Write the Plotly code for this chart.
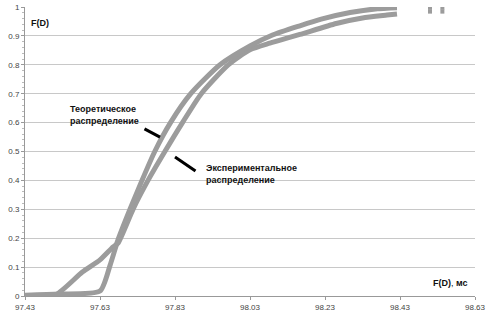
import plotly.graph_objects as go

# Curve 1 ("Теоретическое распределение"): flat start, steep rise, upper curve
theor_x = [97.43, 97.52, 97.63, 97.657, 97.678, 97.71, 97.742, 97.776, 97.818, 97.872,
           97.95, 98.03, 98.09, 98.163, 98.22, 98.297, 98.37, 98.395, 98.422]
theor_y = [0.003, 0.007, 0.017, 0.107, 0.194, 0.30, 0.40, 0.50, 0.60, 0.70,
           0.80, 0.865, 0.903, 0.935, 0.958, 0.981, 0.994, 0.996, 0.997]

# Curve 2 ("Экспериментальное распределение"): gradual start, lower curve
exper_x = [97.43, 97.51, 97.583, 97.63, 97.665, 97.678, 97.718, 97.758, 97.803, 97.85,
           97.90, 97.972, 98.03, 98.083, 98.163, 98.26, 98.33, 98.395, 98.422]
exper_y = [0.0, 0.003, 0.083, 0.125, 0.17, 0.183, 0.30, 0.40, 0.50, 0.60,
           0.70, 0.80, 0.852, 0.875, 0.905, 0.943, 0.962, 0.972, 0.976]

# isolated tail points at the far right
tail_x = [98.51, 98.543, 98.51, 98.543]
tail_y = [0.997, 0.997, 0.984, 0.984]

x_ticks = [97.43, 97.63, 97.83, 98.03, 98.23, 98.43, 98.63]
x_tick_text = ["97.43", "97.63", "97.83", "98.03", "98.23", "98.43", "98.63"]
y_ticks = [0, 0.1, 0.2, 0.3, 0.4, 0.5, 0.6, 0.7, 0.8, 0.9, 1]

GRAY = "#9c9c9c"
FONT = "Liberation Sans"

fig = go.Figure()
fig.add_trace(go.Scatter(x=exper_x, y=exper_y, mode="lines",
                         line=dict(color=GRAY, width=5, shape="spline", smoothing=0.6),
                         showlegend=False))
fig.add_trace(go.Scatter(x=theor_x, y=theor_y, mode="lines",
                         line=dict(color=GRAY, width=5, shape="spline", smoothing=0.6),
                         showlegend=False))
fig.add_trace(go.Scatter(x=tail_x, y=tail_y, mode="markers",
                         marker=dict(color=GRAY, size=4, symbol="square"),
                         showlegend=False))

ann = []
ann.append(dict(x=97.545, y=0.626, xref="x", yref="y", xanchor="left", yanchor="middle",
                align="left", showarrow=False,
                text="<b>Теоретическое<br>распределение</b>",
                font=dict(family=FONT, size=9, color="#111")))
ann.append(dict(x=97.907, y=0.422, xref="x", yref="y", xanchor="left", yanchor="middle",
                align="left", showarrow=False,
                text="<b>Экспериментальное<br>распределение</b>",
                font=dict(family=FONT, size=9, color="#111")))
# pointer lines
ann.append(dict(x=97.790, y=0.550, xref="x", yref="y", ax=-17, ay=-9, text="",
                showarrow=True, arrowhead=0, arrowwidth=3, arrowcolor="#000"))
ann.append(dict(x=97.830, y=0.481, xref="x", yref="y", ax=22, ay=15, text="",
                showarrow=True, arrowhead=0, arrowwidth=3, arrowcolor="#000"))
# axis titles
ann.append(dict(x=97.44, y=0.945, xref="x", yref="y", xanchor="left", yanchor="middle",
                showarrow=False, text="<b>F(D)</b>",
                font=dict(family=FONT, size=9, color="#111")))
ann.append(dict(x=98.617, y=0.045, xref="x", yref="y", xanchor="right", yanchor="middle",
                showarrow=False, text="<b>F(D)</b>, <b>мс</b>",
                font=dict(family=FONT, size=9, color="#111")))
# axis arrows
ann.append(dict(x=98.635, y=0, xref="x", yref="y", ax=-8, ay=0, text="",
                showarrow=True, arrowhead=2, arrowsize=0.8, arrowwidth=1,
                arrowcolor="#999"))
ann.append(dict(x=97.43, y=1.01, xref="x", yref="y", ax=0, ay=7, text="",
                showarrow=True, arrowhead=2, arrowsize=0.8, arrowwidth=1,
                arrowcolor="#999"))

fig.update_layout(
    width=493, height=315,
    margin=dict(l=25, r=18, t=7, b=19),
    paper_bgcolor="white", plot_bgcolor="white",
    annotations=ann,
    font=dict(family=FONT, size=8, color="#444"),
)
fig.update_xaxes(range=[97.43, 98.63], tickvals=x_ticks, ticktext=x_tick_text,
                 automargin=False,
                 showgrid=False, zeroline=False, showline=True, linecolor="#999",
                 linewidth=1, ticks="outside", ticklen=3, tickcolor="#999",
                 tickfont=dict(size=8, color="#444"))
fig.update_yaxes(range=[0, 1.0], tickvals=y_ticks, showgrid=True, gridcolor="#c8c8c8",
                 automargin=False, ticklabeloverflow="allow",
                 gridwidth=1, zeroline=False, showline=True, linecolor="#999",
                 linewidth=1, ticks="outside", ticklen=3, tickcolor="#999",
                 tickfont=dict(size=8, color="#444"),
                 minor=dict(ticks="outside", ticklen=2, dtick=0.02, tickcolor="#bbb",
                            showgrid=False))

fig.write_html("out.html",
               config={"displayModeBar": False},
               post_script="document.body.style.margin='0px';"
                           "document.body.style.overflow='hidden';")
